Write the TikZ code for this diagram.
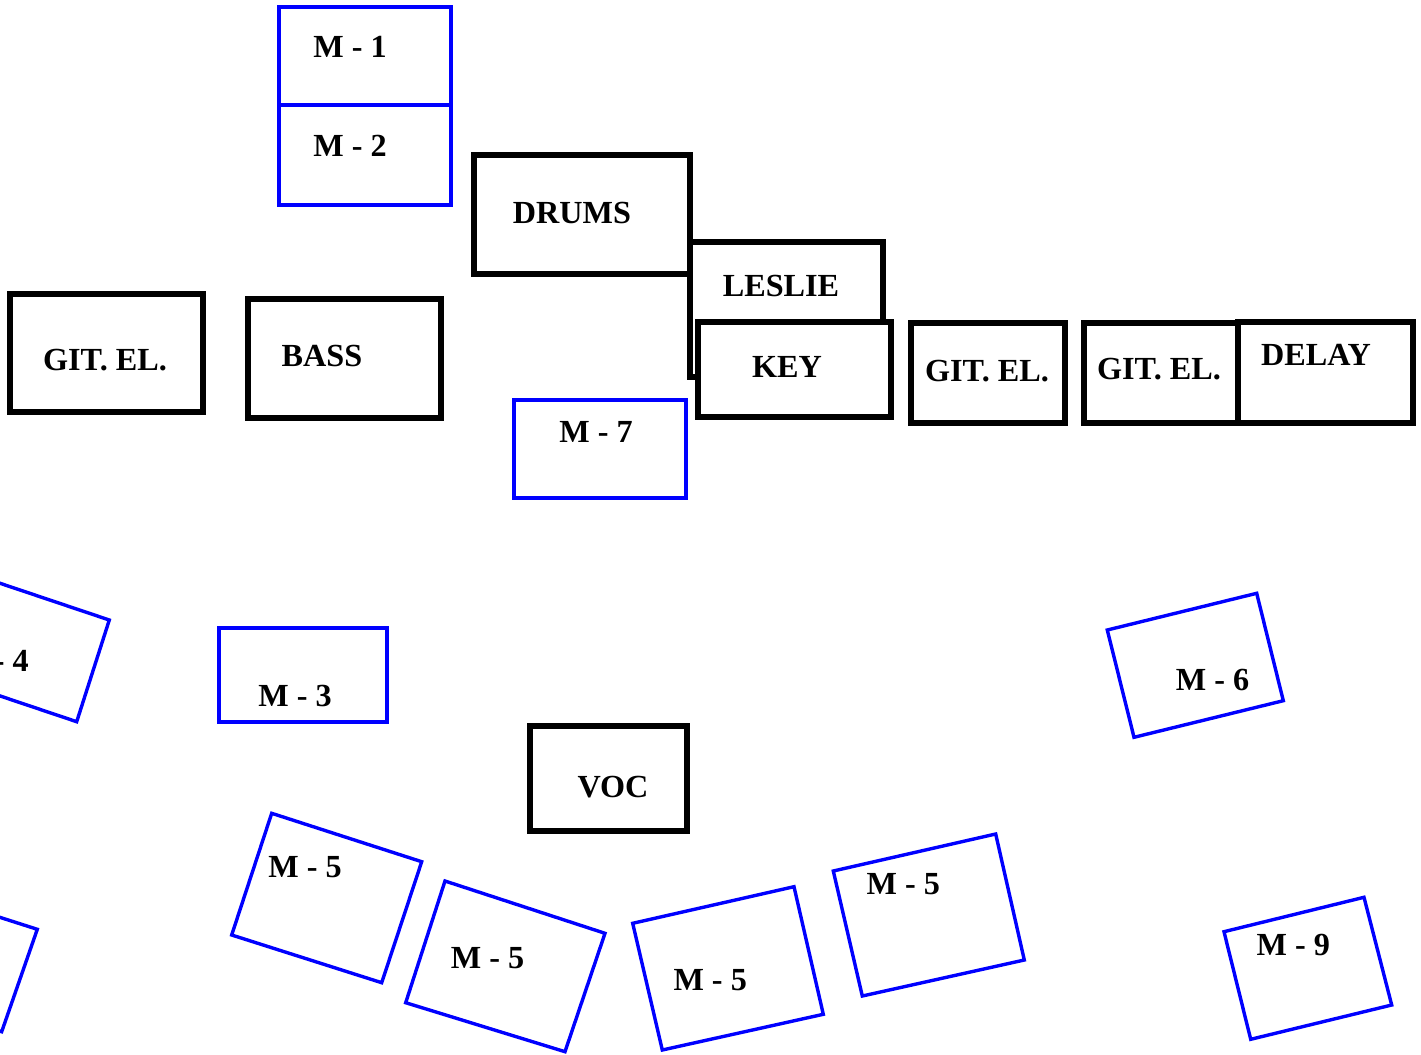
\documentclass[tikz,border=0pt]{standalone}
\usepackage{fontspec}
\setmainfont{Liberation Serif}
\begin{document}
\begin{tikzpicture}[x=0.5pt,y=-0.5pt,
  amp/.style={draw=black,line width=2.6pt,fill=white},
  mic/.style={draw=blue,line width=1.7pt},
  lbl/.style={font=\fontsize{16.1}{18}\selectfont\bfseries,inner sep=0pt,
              text height=10.9pt,text depth=0pt}]
\useasboundingbox (0,0) rectangle (1421,1055);
\clip (0,0) rectangle (1421,1055);

% --- backline: amps, drums, keys ---
\draw[amp] (10,294) rectangle (203,412);
\node[lbl] (gitA) at (105,360) {GIT. EL.};
\draw[amp] (248,299) rectangle (441,418);
\node[lbl] (bass) at (322,356) {BASS};
\draw[amp] (474,155) rectangle (690,274);
\node[lbl] (drums) at (572,213) {DRUMS};
\draw[amp] (690,242) rectangle (883,377);
\node[lbl] (leslie) at (781,286) {LESLIE};
\draw[amp] (698,322) rectangle (891,417);
\node[lbl] (key) at (787,367) {KEY};
\draw[amp] (911,323) rectangle (1065,423);
\node[lbl] (gitB) at (987,371) {GIT. EL.};
\draw[amp] (1084,323) rectangle (1238,423);
\node[lbl] (gitC) at (1159,369) {GIT. EL.};
\draw[amp] (1238,322) rectangle (1413,423);
\node[lbl] (delay) at (1316,355) {DELAY};
\draw[amp] (530,726) rectangle (687,831);
\node[lbl] (voc) at (613,787) {VOC};

% --- monitors, straight ---
\draw[mic] (279,7) rectangle (451,105);
\node[lbl] (m1) at (350,47) {M - 1};
\draw[mic] (279,105) rectangle (451,205);
\node[lbl] (m2) at (350,146) {M - 2};
\draw[mic] (514,400) rectangle (686,498);
\node[lbl] (m7) at (596,432) {M - 7};
\draw[mic] (219,628) rectangle (387,722);
\node[lbl] (m3) at (295,696) {M - 3};

% --- monitors, angled wedges ---
\draw[mic] (-39.5,570) -- (109.3,620) -- (76.7,721.7) -- (-72.1,671.7) -- cycle;
\node[lbl] (m4) at (-8,661) {M - 4};
\draw[mic] (-112.7,881.3) -- (37.3,929.3) -- (1.7,1031.7) -- (-148.3,983.7) -- cycle;
\draw[mic] (271.7,813.3) -- (421.7,861.7) -- (381.7,982.7) -- (231.7,935) -- cycle;
\node[lbl] (m5a) at (305,867) {M - 5};
\draw[mic] (445,881) -- (605,933.3) -- (565,1051.7) -- (405.7,1002.7) -- cycle;
\node[lbl] (m5b) at (487.5,957.7) {M - 5};
\draw[mic] (632.7,923.3) -- (794,886.7) -- (823.3,1014.3) -- (662.3,1050) -- cycle;
\node[lbl] (m5c) at (710.2,979.3) {M - 5};
\draw[mic] (833.3,871) -- (995.7,834) -- (1024.3,960) -- (862.3,996) -- cycle;
\node[lbl] (m5d) at (903.3,883.3) {M - 5};
\draw[mic] (1107.3,630) -- (1256.7,593.3) -- (1283.3,700.7) -- (1134,737.3) -- cycle;
\node[lbl] (m6) at (1212.5,679.3) {M - 6};
\draw[mic] (1224,931.7) -- (1364,897.3) -- (1391.7,1005) -- (1250.7,1039.3) -- cycle;
\node[lbl] (m9) at (1293.3,945) {M - 9};
\end{tikzpicture}
\end{document}
